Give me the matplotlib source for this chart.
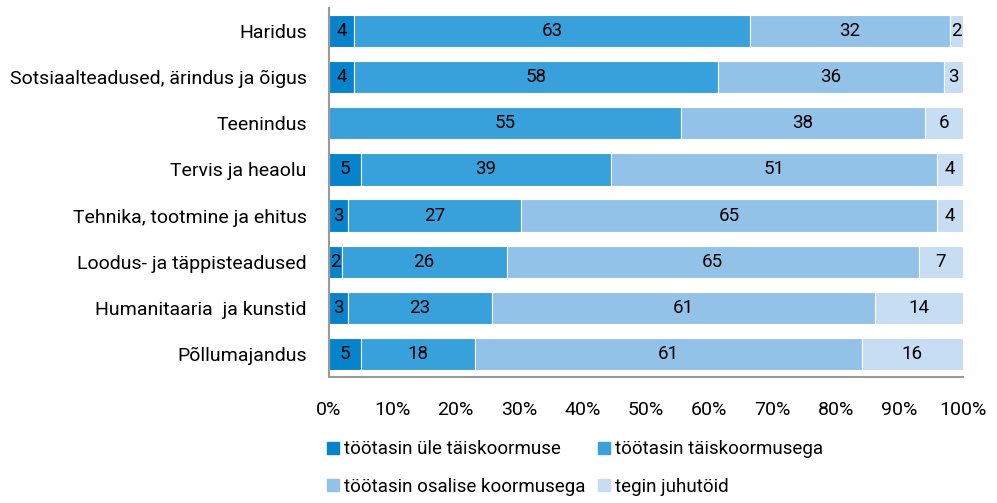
import matplotlib.pyplot as plt
from matplotlib.lines import Line2D
import numpy as np

plt.rcParams['font.family'] = ['Roboto', 'DejaVu Sans']

categories = ['Haridus', 'Sotsiaalteadused, ärindus ja õigus', 'Teenindus',
              'Tervis ja heaolu', 'Tehnika, tootmine ja ehitus',
              'Loodus- ja täppisteadused', 'Humanitaaria  ja kunstid',
              'Põllumajandus']
series = ['töötasin üle täiskoormuse', 'töötasin täiskoormusega',
          'töötasin osalise koormusega', 'tegin juhutöid']
ule = [4, 4, 0, 5, 3, 2, 3, 5]
tais = [63, 58, 55, 39, 27, 26, 23, 18]
osalise = [32, 36, 38, 51, 65, 65, 61, 61]
juhu = [2, 3, 6, 4, 4, 7, 14, 16]
colors = ['#0683cb', '#38a1db', '#93c2e8', '#c7ddf3']

data = np.array([ule, tais, osalise, juhu], dtype=float)
shares = data / data.sum(axis=0) * 100

fig = plt.figure(figsize=(9.97, 5.03), dpi=100)
ax = fig.add_axes([329 / 997, 1 - 377 / 503, 634 / 997, 369 / 503])

y = np.arange(len(categories))
left = np.zeros(len(categories))
for i in range(4):
    ax.barh(y, shares[i], left=left, height=0.7, color=colors[i],
            edgecolor='white', linewidth=0.8, label=series[i])
    for j in range(len(categories)):
        if data[i, j] > 0:
            ax.text(left[j] + shares[i, j] / 2, y[j], f'{int(data[i, j])}',
                    ha='center', va='center', fontsize=13.5, color='black')
    left += shares[i]

ax.set_ylim(len(categories) - 0.5, -0.5)
ax.set_xlim(0, 100)
ax.set_yticks(y)
ax.set_yticklabels(categories, fontsize=14)
ax.set_xticks(np.arange(0, 101, 10))
ax.set_xticklabels([f'{v}%' for v in range(0, 101, 10)], fontsize=14)
ax.tick_params(length=0)
ax.tick_params(axis='y', pad=16)
ax.tick_params(axis='x', pad=17)
for s in ['top', 'right']:
    ax.spines[s].set_visible(False)
for s in ['left', 'bottom']:
    ax.spines[s].set_color('#9a9a9a')
    ax.spines[s].set_linewidth(1.5)

# legend filled row by row
order = [0, 2, 1, 3]
handles = [Line2D([], [], marker='s', linestyle='', markersize=9,
                  color=colors[k]) for k in order]
fig.legend(handles, [series[k] for k in order], ncol=2, loc='upper left',
           bbox_to_anchor=(310 / 997, 1 - 427 / 503), frameon=False,
           fontsize=13.5, handletextpad=0.1, columnspacing=0.5,
           labelspacing=1.05, handlelength=1.0, borderaxespad=0.3)

fig.savefig('out.png', dpi=100)
